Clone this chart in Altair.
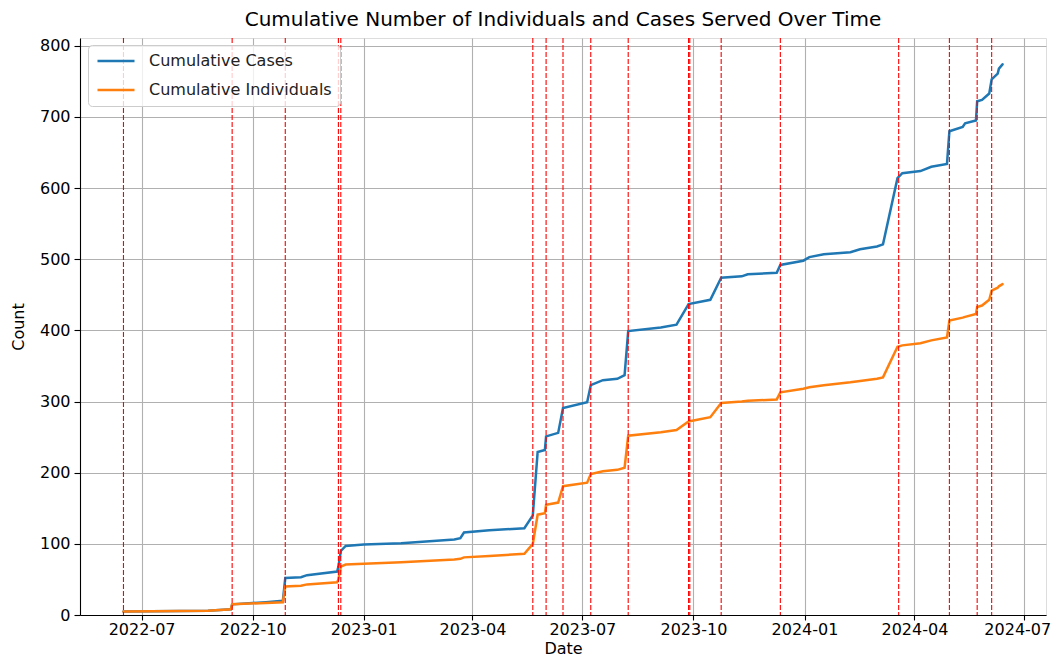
import altair as alt
import pandas as pd

# ---- data ----
dates = [
    "2022-06-16", "2022-08-25", "2022-09-13", "2022-09-14", "2022-10-12", "2022-10-26",
    "2022-10-28", "2022-11-10", "2022-11-15", "2022-12-10", "2022-12-11", "2022-12-13",
    "2022-12-17", "2023-01-01", "2023-02-01", "2023-03-17", "2023-03-22", "2023-03-25",
    "2023-04-15", "2023-05-14", "2023-05-21", "2023-05-25", "2023-05-31", "2023-06-01",
    "2023-06-11", "2023-06-15", "2023-07-05", "2023-07-08", "2023-07-18", "2023-07-30",
    "2023-08-05", "2023-08-08", "2023-09-04", "2023-09-17", "2023-09-27", "2023-10-15",
    "2023-10-24", "2023-11-10", "2023-11-15", "2023-12-09", "2023-12-12", "2023-12-31",
    "2024-01-05", "2024-01-17", "2024-02-08", "2024-02-16", "2024-03-01", "2024-03-06",
    "2024-03-18", "2024-03-22", "2024-04-06", "2024-04-15", "2024-04-28", "2024-04-30",
    "2024-05-11", "2024-05-13", "2024-05-22", "2024-05-23", "2024-05-27", "2024-06-02",
    "2024-06-04", "2024-06-09", "2024-06-10", "2024-06-13",
]
cases = [
    5, 6, 8, 15, 18, 20,
    52, 53, 56, 61, 68, 90,
    97, 99, 101, 106, 108, 116,
    119, 122, 140, 229, 232, 251,
    256, 291, 299, 323, 330, 332,
    337, 399, 404, 408, 437, 443,
    474, 476, 479, 481, 492, 498,
    503, 507, 510, 514, 518, 521,
    614, 621, 624, 630, 634, 680,
    686, 691, 695, 722, 724, 733,
    753, 761, 768, 774,
]
individuals = [
    5, 6, 8, 15, 17, 18,
    40, 41, 43, 46, 50, 68,
    71, 72, 74, 78, 79, 81,
    83, 86, 100, 141, 143, 155,
    158, 181, 186, 198, 202, 204,
    207, 252, 257, 260, 272, 278,
    298, 300, 301, 303, 313, 318,
    320, 323, 327, 329, 332, 334,
    377, 379, 382, 386, 390, 414,
    418, 419, 423, 433, 435, 443,
    456, 460, 462, 465,
]
event_dates = [
    "2022-06-16", "2022-09-14", "2022-10-28", "2022-12-11", "2022-12-13",
    "2023-05-21", "2023-06-01", "2023-06-15", "2023-07-08", "2023-08-08",
    "2023-09-27", "2023-09-28", "2023-10-24", "2023-12-12", "2024-03-19",
    "2024-04-30", "2024-05-23", "2024-06-04",
]
series_names = ["Cumulative Cases", "Cumulative Individuals"]
series_colors = ["#1f77b4", "#ff7f0e"]
x_tick_dates = [(2022, 7), (2022, 10), (2023, 1), (2023, 4), (2023, 7),
                (2023, 10), (2024, 1), (2024, 4), (2024, 7)]
y_ticks = [0, 100, 200, 300, 400, 500, 600, 700, 800]

# ---- tables ----
rows = []
for d, c, i in zip(dates, cases, individuals):
    rows.append({"date": d + "T00:00:00", "series": series_names[0], "value": c})
    rows.append({"date": d + "T00:00:00", "series": series_names[1], "value": i})
df = pd.DataFrame(rows)
ev = pd.DataFrame({"date": [d + "T00:00:00" for d in event_dates]})

FONT = "DejaVu Sans"
W, H = 966, 577

x_scale = alt.Scale(domain=[alt.DateTime(year=2022, month=5, date=11),
                            alt.DateTime(year=2024, month=7, date=19)], nice=False)
y_scale = alt.Scale(domain=[0, 811], nice=False, zero=False)

x_axis = alt.Axis(
    title="Date", format="%Y-%m",
    values=[alt.DateTime(year=y, month=m, date=1) for y, m in x_tick_dates],
    grid=True, gridColor="#b0b0b0", gridWidth=1.1,
    labelFont=FONT, labelFontSize=16, labelColor="black", labelPadding=1,
    labelOffset={"condition": {"test": "datum.value > datetime(2024, 5, 1)", "value": -7},
                 "value": 0},
    titleFont=FONT, titleFontSize=16, titleFontWeight="normal", titleColor="black",
    titlePadding=3, tickColor="black", tickSize=5, tickWidth=1.1,
    domainColor="black", domainWidth=1.1, labelFlush=False,
)
y_axis = alt.Axis(
    title="Count", values=y_ticks,
    grid=True, gridColor="#b0b0b0", gridWidth=1.1,
    labelFont=FONT, labelFontSize=16, labelColor="black", labelPadding=4,
    titleFont=FONT, titleFontSize=16, titleFontWeight="normal", titleColor="black",
    titlePadding=13, tickColor="black", tickSize=6, tickWidth=1.1,
    domainColor="black", domainWidth=1.1,
)

lines = alt.Chart(df).mark_line(strokeWidth=2.5, strokeCap="round").encode(
    x=alt.X("date:T", scale=x_scale, axis=x_axis),
    y=alt.Y("value:Q", scale=y_scale, axis=y_axis),
    color=alt.Color(
        "series:N",
        scale=alt.Scale(domain=series_names, range=series_colors),
        legend=alt.Legend(
            title=None, orient="none", legendX=8, legendY=7,
            symbolType="M-3.7,0H3.7", symbolSize=100, symbolStrokeWidth=2.5,
            labelFont=FONT, labelFontSize=16, labelColor="#222222",
            labelOffset=25, symbolOffset=12, labelLimit=400,
            fillColor="rgba(255,255,255,0.8)", strokeColor="#cccccc",
            padding=8, cornerRadius=4, rowPadding=13,
        ),
    ),
)

rules = alt.Chart(ev).mark_rule(color="red", strokeWidth=1.1, strokeDash=[5, 2]).encode(
    x=alt.X("date:T", scale=x_scale),
)

chart = alt.layer(lines, rules).properties(
    width=W, height=H,
    title=alt.Title(
        "Cumulative Number of Individuals and Cases Served Over Time",
        font=FONT, fontSize=20, fontWeight="normal", color="black",
        anchor="middle", offset=7,
    ),
    autosize=alt.AutoSizeParams(type="none"),
    padding={"left": 72, "top": 30, "right": 6, "bottom": 44},
).configure_view(stroke="black", strokeWidth=1.1).configure(background="white")

chart.save("out.html", embed_options={"renderer": "svg", "actions": False})
